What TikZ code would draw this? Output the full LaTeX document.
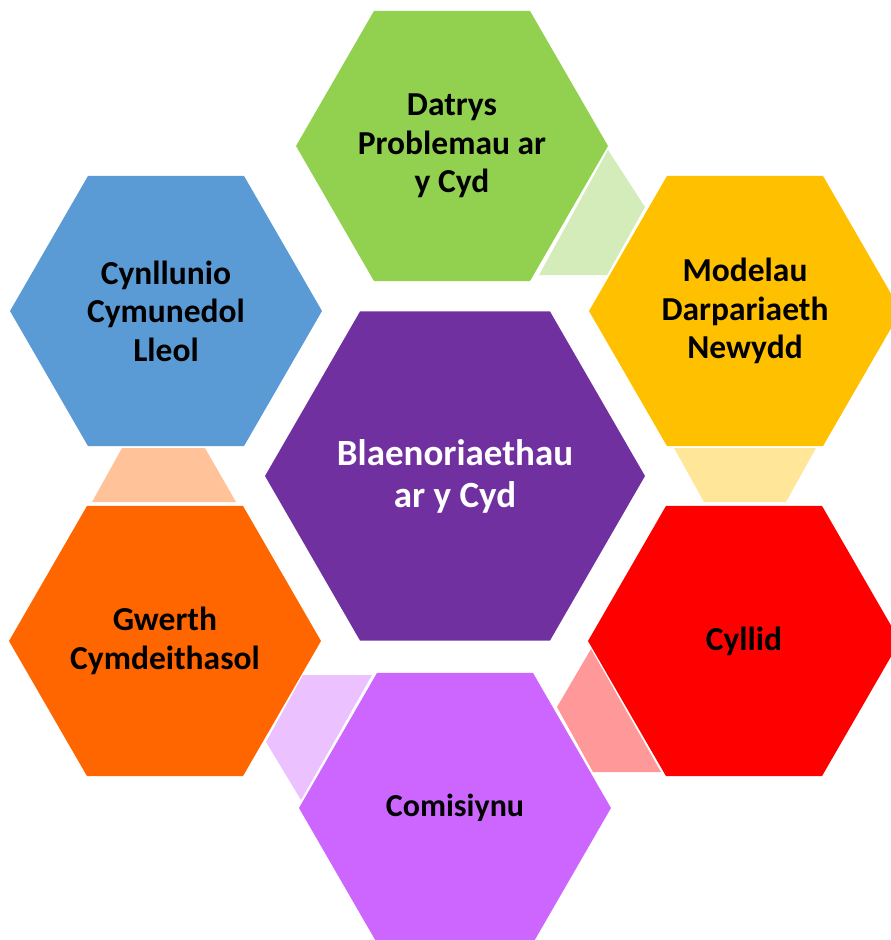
\documentclass[tikz,border=0pt]{standalone}
\usepackage{fontspec}
\setmainfont{Carlito}
\usetikzlibrary{shapes.geometric}

\definecolor{hexgreen}{HTML}{92D050}
\definecolor{hexblue}{HTML}{5B9BD5}
\definecolor{hexyellow}{HTML}{FFC000}
\definecolor{hexred}{HTML}{FF0000}
\definecolor{hexorange}{HTML}{FF6600}
\definecolor{hexviolet}{HTML}{CC66FF}
\definecolor{hexpurple}{HTML}{7030A0}

\begin{document}
\begin{tikzpicture}[x=1pt,y=-1pt,
  hex/.style={regular polygon,regular polygon sides=6,inner sep=0pt,
    minimum size=312pt,align=center,font=\fontsize{33.5}{38.5}\selectfont\bfseries},
  bighex/.style={hex,minimum size=380pt},
  bigtext/.style={align=center,text=white,font=\fontsize{37}{42}\selectfont\bfseries}]
   \useasboundingbox (0,0) rectangle (891,940);
   \clip (0,0) rectangle (891,940);
   % small links between the outer hexagons
   \fill[hexgreen!40]  (608,150) -- (645,207) -- (607,275) -- (539,275) -- cycle;
   \fill[hexyellow!40] (674,448) -- (816,448) -- (786,502) -- (704,502) -- cycle;
   \fill[hexred!40]    (591,649) -- (661,772) -- (593,772) -- (557,707) -- cycle;
   \fill[hexviolet!40] (303,675) -- (372,675) -- (301,800) -- (266,742) -- cycle;
   \fill[hexorange!40] (122,448) -- (205,448) -- (236,502) -- (92,502) -- cycle;
   % hexagons
   \node[hex,fill=hexgreen]  (datrys)   at (452,146) {Datrys\\Problemau ar\\y Cyd};
   \node[hex,fill=hexblue]   (cynllun)  at (166,311) {Cynllunio\\Cymunedol\\Lleol};
   \node[hex,fill=hexyellow] (modelau)  at (745,311) {Modelau\\Darpariaeth\\Newydd};
   \node[hex,fill=hexorange] (gwerth)   at (165,641) {Gwerth\\Cymdeithasol};
   \node[hex,fill=hexred]    (cyllid)   at (744,641) {Cyllid};
   \node[hex,fill=hexviolet,font=\fontsize{32}{38}\selectfont\bfseries] (comisiwn) at (455,808) {Comisiynu};
   \node[bighex,fill=hexpurple] (blaen) at (455,476) {};
   \node[bigtext] (blaentext) at (blaen.center) {Blaenoriaethau\\ar y Cyd};
\end{tikzpicture}
\end{document}
